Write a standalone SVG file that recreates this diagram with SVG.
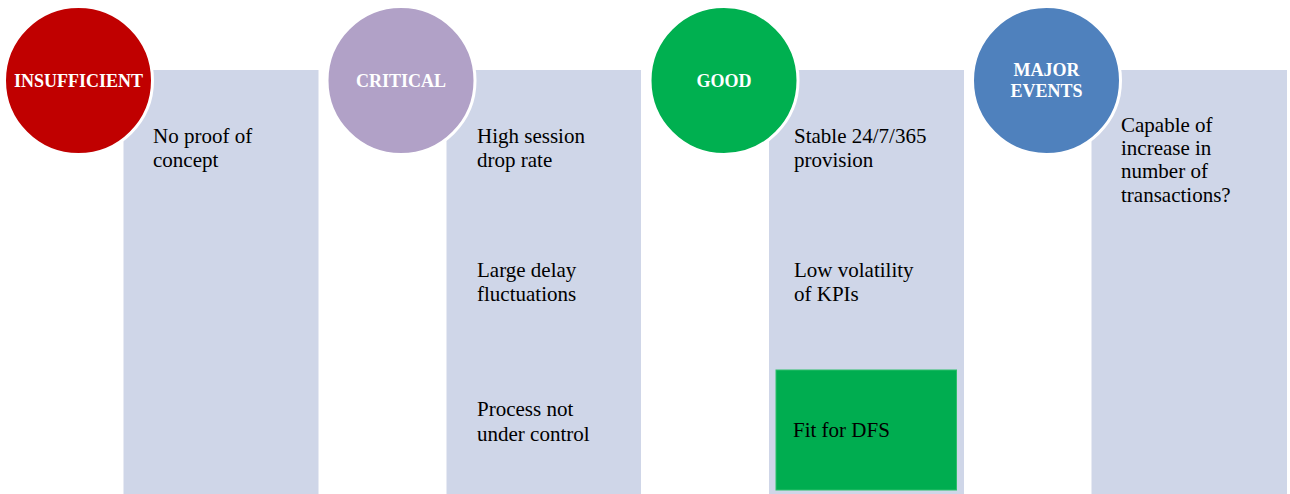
<svg xmlns="http://www.w3.org/2000/svg" width="1290" height="494" viewBox="0 0 1290 494">
  <style>
    .panel { fill: #CFD6E8; }
    .badge { stroke: #FFFFFF; stroke-width: 3; }
    .head { font-family: "Liberation Serif", "Times New Roman", serif; font-weight: bold; font-size: 18px; fill: #FFFFFF; text-anchor: middle; }
    .item { font-family: "Liberation Serif", "Times New Roman", serif; font-size: 21px; fill: #000000; }
  </style>
  <rect width="1290" height="494" fill="#FFFFFF"/>

  <!-- Column 1 -->
  <g id="insufficient">
    <rect class="panel" x="123.5" y="70" width="195" height="424"/>
    <text class="item"><tspan x="153" y="143">No proof of</tspan><tspan x="153" y="167">concept</tspan></text>
    <circle class="badge" cx="78.5" cy="80.5" r="74" fill="#C00000"/>
    <text class="head" x="78.5" y="87">INSUFFICIENT</text>
  </g>

  <!-- Column 2 -->
  <g id="critical">
    <rect class="panel" x="446.5" y="70" width="194.5" height="424"/>
    <text class="item"><tspan x="477" y="143">High session</tspan><tspan x="477" y="167">drop rate</tspan></text>
    <text class="item"><tspan x="477" y="277">Large delay</tspan><tspan x="477" y="301">fluctuations</tspan></text>
    <text class="item"><tspan x="477" y="416">Process not</tspan><tspan x="477" y="441">under control</tspan></text>
    <circle class="badge" cx="401" cy="80.5" r="74" fill="#B1A1C7"/>
    <text class="head" x="401" y="87">CRITICAL</text>
  </g>

  <!-- Column 3 -->
  <g id="good">
    <rect class="panel" x="769" y="70" width="195" height="424"/>
    <text class="item"><tspan x="794" y="143">Stable 24/7/365</tspan><tspan x="794" y="167">provision</tspan></text>
    <text class="item"><tspan x="794" y="277">Low volatility</tspan><tspan x="794" y="301">of KPIs</tspan></text>
    <circle class="badge" cx="724" cy="80.5" r="74" fill="#00B050"/>
    <text class="head" x="724" y="87">GOOD</text>
  </g>

  <g id="fit-for-dfs">
    <rect x="776" y="370" width="180.5" height="120" fill="#00AD50" stroke="#2DBF6A" stroke-width="1"/>
    <text class="item" x="793" y="437">Fit for DFS</text>
  </g>

  <!-- Column 4 -->
  <g id="major-events">
    <rect class="panel" x="1091.5" y="70" width="195.5" height="424"/>
    <text class="item"><tspan x="1121" y="132">Capable of</tspan><tspan x="1121" y="155">increase in</tspan><tspan x="1121" y="178">number of</tspan><tspan x="1121" y="202">transactions?</tspan></text>
    <circle class="badge" cx="1046.5" cy="80.5" r="74" fill="#4F81BD"/>
    <text class="head"><tspan x="1046.5" y="76">MAJOR</tspan><tspan x="1046.5" y="97">EVENTS</tspan></text>
  </g>

  <g id="connectors"></g>
</svg>
